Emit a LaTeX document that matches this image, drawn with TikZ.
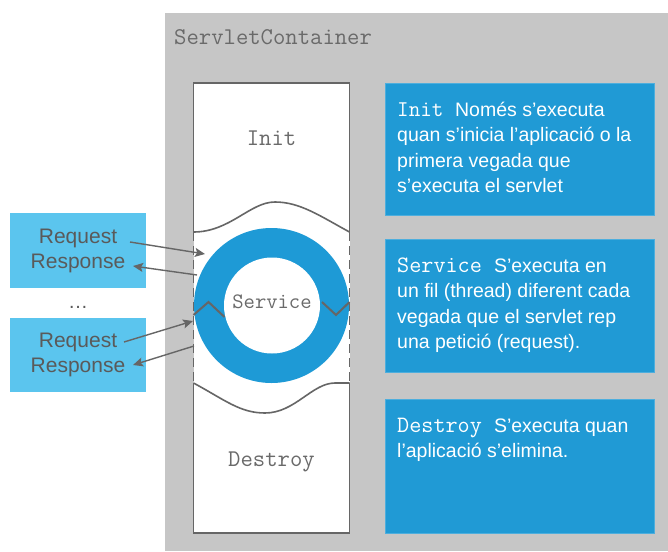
\documentclass[tikz,border=0pt]{standalone}
\usepackage{fontspec}
\setmainfont{Liberation Sans}
\usetikzlibrary{arrows.meta}
\definecolor{bggray}{HTML}{C6C6C6}
\definecolor{boxblue}{HTML}{209AD5}
\definecolor{reqblue}{HTML}{5BC5EE}
\definecolor{ringblue}{HTML}{1E9AD6}
\definecolor{linegray}{HTML}{666666}
\definecolor{txtgray}{HTML}{5A5A5A}
\definecolor{monogray}{HTML}{6A6A6A}
\begin{document}
\begin{tikzpicture}[x=1pt,y=-1pt,
  infobox/.style={fill=boxblue, draw=boxblue!80!white, line width=0.6pt, minimum width=269pt, inner sep=0pt},
  reqbox/.style={fill=reqblue, minimum width=136pt, inner sep=0pt, text=txtgray, align=center,
     font=\fontsize{21}{25}\selectfont},
  infotext/.style={anchor=base west, inner sep=0pt, text=white, font=\fontsize{19.5}{25.5}\selectfont},
  monolabel/.style={inner sep=0pt, text=monogray, font=\ttfamily\fontsize{24}{28}\selectfont},
  border/.style={draw=linegray, line width=1.6pt},
  dashborder/.style={draw=linegray, line width=1.6pt, dash pattern=on 9pt off 5pt},
  arr/.style={draw=linegray, line width=1.4pt, -{Stealth[length=10pt,width=9pt,inset=2pt]}},
  zig/.style={draw=linegray, line width=2pt, line join=miter}]
\useasboundingbox (0,0) rectangle (668,551);
\fill[white] (0,0) rectangle (668,551);
% container
\fill[bggray] (165,13) rectangle (668,551);
\node[monolabel, anchor=base west] (title) at (174,45) {ServletContainer};
% column
\fill[white] (193.5,83) rectangle (349.5,533);
\draw[border] (193.5,232) -- (193.5,83) -- (349.5,83) -- (349.5,232);
\draw[border] (193.5,383) -- (193.5,533) -- (349.5,533) -- (349.5,383);
\draw[dashborder] (193.5,232) -- (193.5,383);
\draw[dashborder] (349.5,232) -- (349.5,383);
% waves
\draw[draw=linegray, line width=1.6pt] (193.5,232) .. controls (230,232) and (250,202) .. (275,202)
  .. controls (300,202) and (320,216) .. (349.5,232);
\draw[draw=linegray, line width=1.6pt] (193.5,383) .. controls (225,400) and (240,413) .. (265,413)
  .. controls (295,413) and (312,383) .. (335,383) -- (349.5,383);
\node[monolabel, anchor=base] (init) at (271.5,145) {Init};
\node[monolabel, anchor=base] (destroy) at (271.5,466) {Destroy};
% ring
\fill[ringblue] (271.5,305.5) circle[radius=77.5];
\fill[white] (272,305.5) circle[radius=48];
\draw[zig] (193.5,315) -- (208.5,302) -- (224.5,317);
\draw[zig] (322,302) -- (336,315) -- (349.5,302);
\node[monolabel, anchor=base, font=\ttfamily\fontsize{22}{26}\selectfont] (service) at (272,308) {Service};
% request boxes
\node[reqbox, minimum height=75pt] (req1) at (78,250.5) {Request\\Response};
\node[inner sep=0pt, text=txtgray, font=\fontsize{20}{24}\selectfont, anchor=base] (dots) at (78,308) {…};
\node[reqbox, minimum height=74pt] (req2) at (78,355) {Request\\Response};
\coordinate (a1s) at (130,242); \coordinate (a1e) at (205,254);
\coordinate (a2s) at (197,275); \coordinate (a2e) at (133,266);
\coordinate (a3s) at (124,342); \coordinate (a3e) at (193,321);
\coordinate (a4s) at (194,346); \coordinate (a4e) at (133,365);
\draw[arr] (a1s) -- (a1e);
\draw[arr] (a2s) -- (a2e);
\draw[arr] (a3s) -- (a3e);
\draw[arr] (a4s) -- (a4e);
% info boxes
\node[infobox, minimum height=132pt] (binit) at (519.5,149) {};
\node[infobox, minimum height=133pt] (bservice) at (519.5,305.5) {};
\node[infobox, minimum height=134pt] (bdestroy) at (519.5,466) {};
\node[infotext] (tinit) at (397,116) {\parbox[t]{255pt}{{\ttfamily\fontsize{22.5}{25.5}\selectfont Init }Només s’executa\\quan s’inicia l’aplicació o la\\primera vegada que\\s’executa el servlet}};
\node[infotext] (tservice) at (397,272) {\parbox[t]{255pt}{{\ttfamily\fontsize{23.5}{25.5}\selectfont Service }S’executa en\\un fil (thread) diferent cada\\vegada que el servlet rep\\una petició (request).}};
\node[infotext] (tdestroy) at (397,432) {\parbox[t]{255pt}{{\ttfamily\fontsize{23.5}{25.5}\selectfont Destroy }S’executa quan\\l’aplicació s’elimina.}};
\end{tikzpicture}
\end{document}
